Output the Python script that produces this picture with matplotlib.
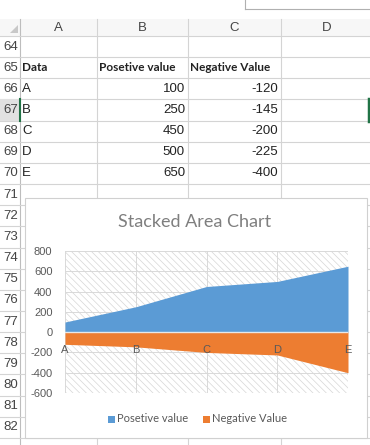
import matplotlib
matplotlib.use('Agg')

import matplotlib.pyplot as plt
from matplotlib.patches import Rectangle, Polygon

# data
categories = ['A', 'B', 'C', 'D', 'E']
positive_values = [100, 250, 450, 500, 650]
negative_values = [-120, -145, -200, -225, -400]
y_ticks = [-600, -400, -200, 0, 200, 400, 600, 800]
series_names = ['Posetive value', 'Negative Value']
header_row = ['Data', 'Posetive value', 'Negative Value']
column_letters = ['A', 'B', 'C', 'D']
first_row_number = 64

BLUE = '#5B9BD5'
ORANGE = '#ED7D31'
GRID = '#d4d4d4'
TXT = '#595959'

W, H = 370, 445
fig = plt.figure(figsize=(W / 100, H / 100), dpi=100)

# sheet background in pixel coordinates
bg = fig.add_axes([0, 0, 1, 1])
bg.set_xlim(0, W)
bg.set_ylim(H, 0)
bg.axis('off')

col_edges = [20, 97, 188, 281, 372]
row_top = 36
row_h = 21.15

# formula bar corner
bg.plot([245, 370], [9, 9], color='#b0b0b0', lw=0.8)
bg.plot([245, 245], [0, 9], color='#b0b0b0', lw=0.8)

# column header strip
bg.add_patch(Rectangle((0, 19), W, 17, facecolor='#f7f7f7', edgecolor='none'))
bg.add_patch(Polygon([[18, 25], [18, 33], [10, 33]], closed=True,
                     facecolor='#c8c8c8', edgecolor='none'))
for i, letter in enumerate(column_letters):
    cx = (col_edges[i] + col_edges[i + 1]) / 2
    bg.text(cx, 28, letter, ha='center', va='center', fontsize=9.5,
            family='Liberation Sans', color='#444444')
for x in col_edges[1:-1]:
    bg.plot([x, x], [19, H], color=GRID, lw=0.8)
bg.plot([20, 20], [19, H], color='#bdbdbd', lw=0.8)

# row lines and row numbers
n_rows = 20
for k in range(n_rows):
    y = row_top + k * row_h
    bg.plot([0, W], [y, y], color=GRID, lw=0.8)
for k in range(n_rows - 1):
    cy = row_top + (k + 0.5) * row_h
    if cy > H + 5:
        break
    num = first_row_number + k
    if num == 67:
        bg.add_patch(Rectangle((0, row_top + k * row_h), 20, row_h,
                               facecolor='#e1e1e1', edgecolor='none', zorder=2))
        bg.plot([20, 20], [row_top + k * row_h, row_top + (k + 1) * row_h],
                color='#217346', lw=1.5, zorder=3)
        bg.plot([369, 369], [row_top + k * row_h, row_top + (k + 1) * row_h],
                color='#217346', lw=2.5, zorder=3)
    bg.text(18, cy, str(num), ha='right', va='center', fontsize=9.5,
            family='Liberation Sans', color='#444444', zorder=4)

# table cells
cy = row_top + 1.5 * row_h
for i, h in enumerate(header_row):
    bg.text(col_edges[i] + 2, cy, h, ha='left', va='center', fontsize=8.5,
            family='Lato', weight='bold', color='#222222')
for r, (c, p, n) in enumerate(zip(categories, positive_values, negative_values)):
    cy = row_top + (r + 2.5) * row_h
    bg.text(col_edges[0] + 2, cy, c, ha='left', va='center', fontsize=9.5,
            family='Liberation Sans', color='#222222')
    bg.text(col_edges[2] - 3, cy, str(p), ha='right', va='center', fontsize=9.5,
            family='Liberation Sans', color='#222222')
    bg.text(col_edges[3] - 3, cy, str(n), ha='right', va='center', fontsize=9.5,
            family='Liberation Sans', color='#222222')

# chart box
bg.add_patch(Rectangle((25, 198), 342, 240, facecolor='white',
                       edgecolor='#d0d0d0', lw=0.8, zorder=5))
bg.text(195, 222, 'Stacked Area Chart', ha='center', va='center',
        fontsize=13, family='Lato', color='#7f7f7f', zorder=6)

# legend
leg_y = 419
bg.add_patch(Rectangle((108, leg_y - 3.5), 7, 7, facecolor=BLUE, edgecolor='none', zorder=6))
bg.text(117, leg_y, series_names[0], ha='left', va='center', fontsize=8,
        family='Lato', color=TXT, zorder=6)
bg.add_patch(Rectangle((203, leg_y - 3.5), 7, 7, facecolor=ORANGE, edgecolor='none', zorder=6))
bg.text(212, leg_y, series_names[1], ha='left', va='center', fontsize=8,
        family='Lato', color=TXT, zorder=6)

# plot area
x0, x1, y0, y1 = 65, 348, 251, 393
ax = fig.add_axes([x0 / W, 1 - y1 / H, (x1 - x0) / W, (y1 - y0) / H])
ax.set_zorder(10)
ax.patch.set_alpha(0)
plt.rcParams['hatch.linewidth'] = 0.5
ax.add_patch(Rectangle((0, 0), 1, 1, transform=ax.transAxes, fill=False,
                       hatch='\\' * 5, edgecolor='#d6d6d6', lw=0, zorder=0))

xs = list(range(len(categories)))
ax.fill_between(xs, 0, positive_values, color=BLUE, lw=0, zorder=2)
ax.fill_between(xs, 0, negative_values, color=ORANGE, lw=0, zorder=2)

ax.set_xlim(0, len(categories) - 1)
ax.set_ylim(y_ticks[0], y_ticks[-1])
ax.set_yticks(y_ticks)
ax.set_yticklabels([str(v) for v in y_ticks], fontsize=8, family='Liberation Sans', color=TXT)
ax.set_xticks(xs)
ax.set_xticklabels([])
ax.tick_params(length=0, pad=9)
ax.grid(True, color='#d9d9d9', lw=0.7, zorder=1)
ax.axhline(0, color='#e8e8e8', lw=1.0, zorder=3)
for s in ax.spines.values():
    s.set_visible(False)
for i, c in enumerate(categories):
    ax.annotate(c, (i, 0), xytext=(0, -13), textcoords='offset points', ha='center',
                va='center', fontsize=8, family='Liberation Sans', color=TXT,
                annotation_clip=False, zorder=4)

fig.savefig('out.png', dpi=100)
